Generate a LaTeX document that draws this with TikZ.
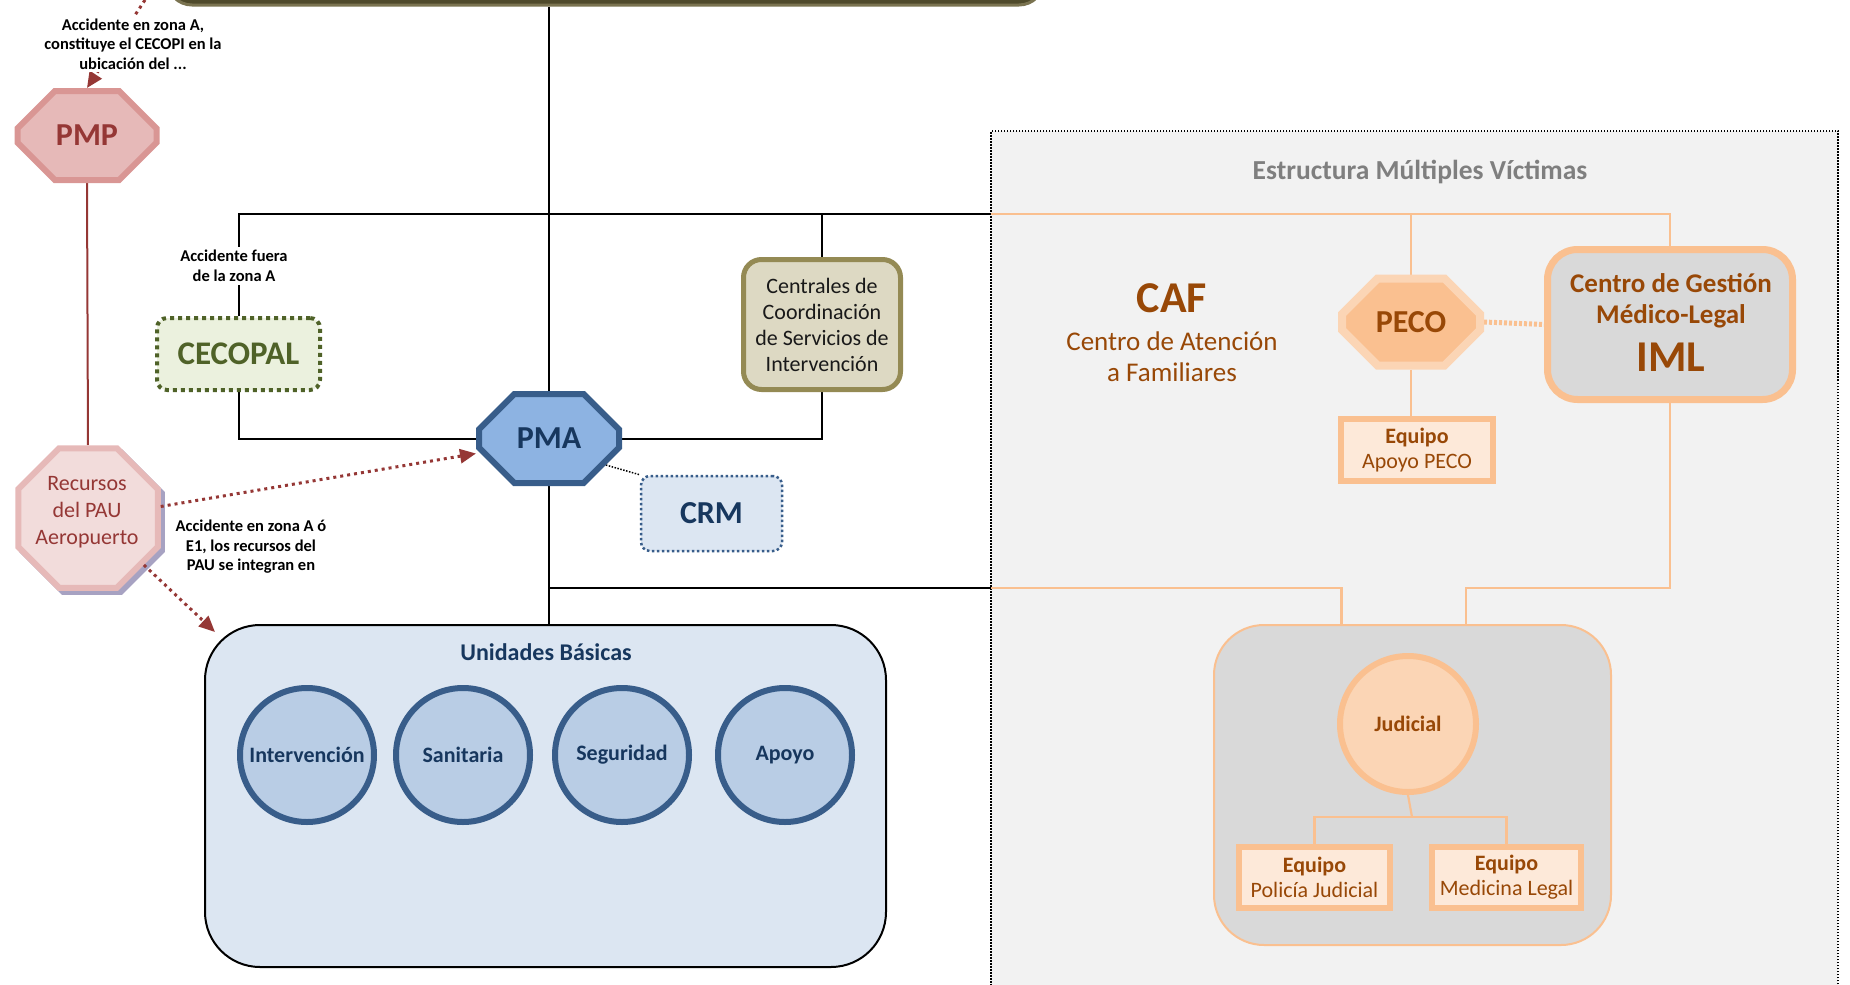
\documentclass[tikz,border=0pt]{standalone}
\usepackage{fontspec}
\setmainfont{Carlito}
\usetikzlibrary{shapes.misc,shapes.geometric,arrows.meta,shadows}
\definecolor{pmpfill}{HTML}{E6B9B8}
\definecolor{pmpline}{HTML}{D99694}
\definecolor{darkred}{HTML}{953735}
\definecolor{recfill}{HTML}{F2DCDB}
\definecolor{recshadow}{HTML}{A7A2C2}
\definecolor{greenfill}{HTML}{EBF1DE}
\definecolor{greenline}{HTML}{4F6228}
\definecolor{pmafill}{HTML}{8DB3E2}
\definecolor{blueline}{HTML}{385D8A}
\definecolor{navy}{HTML}{17375E}
\definecolor{lightblue}{HTML}{DCE6F2}
\definecolor{circfill}{HTML}{B9CDE5}
\definecolor{tanfill}{HTML}{DDD9C3}
\definecolor{tanline}{HTML}{948A54}
\definecolor{olivefill}{HTML}{4F4A2B}
\definecolor{oliveline}{HTML}{7A7350}
\definecolor{greyreg}{HTML}{F2F2F2}
\definecolor{titlegrey}{HTML}{7F7F7F}
\definecolor{brown}{HTML}{984807}
\definecolor{orange}{HTML}{FAC090}
\definecolor{lightorange}{HTML}{FBD5B5}
\definecolor{paleorange}{HTML}{FDE9D9}
\definecolor{midgrey}{HTML}{D9D9D9}
\newcommand\fsz[2]{\fontsize{#1}{#2}\selectfont}
\pgfdeclarelayer{back}
\pgfdeclarelayer{lines}
\pgfsetlayers{back,lines,main}
\tikzset{
  octa/.style 2 args={chamfered rectangle, chamfered rectangle xsep=#1, chamfered rectangle ysep=#2, inner sep=0pt},
  txt/.style={inner sep=0pt, align=center},
  conn/.style={draw=black, line width=2pt},
  oconn/.style={draw=orange, line width=2.2pt},
  redarrow/.style={draw=darkred, line width=3pt, dash pattern=on 3pt off 4pt, -{Triangle[length=16pt,width=14pt]}},
  smalllbl/.style={txt, font=\bfseries\fsz{16.5}{19.5}},
  ubcirc/.style={circle, minimum size=134pt, fill=circfill, draw=blueline, line width=6pt, text=navy, font=\bfseries\fsz{22}{26}, inner sep=0pt},
  equipo/.style={rectangle, fill=paleorange, draw=orange, line width=6pt, text=brown, font=\fsz{22}{25}, align=center, inner sep=0pt}
}
\begin{document}
\begin{tikzpicture}[x=1pt,y=-1pt]
\useasboundingbox (0,0) rectangle (1850,985);
\begin{pgfonlayer}{back}
  \node[rectangle, minimum width=847pt, minimum height=858pt, fill=greyreg, draw=black, line width=1.5pt, dash pattern=on 1.5pt off 1.5pt, inner sep=0pt] (mv) at (1414.5,560) {};
\end{pgfonlayer}

% top olive box (cut by the page edge)
\node[rectangle, rounded corners=25pt, minimum width=877pt, minimum height=60pt, fill=olivefill, draw=oliveline, line width=3pt, inner sep=0pt] (cecopi) at (605.5,-25) {};

% left column
\node[octa={25pt}{27pt}, minimum width=139pt, minimum height=89pt, fill=pmpfill, draw=pmpline, line width=6pt, text=darkred, font=\bfseries\fsz{32}{32}] (pmp) at (87,135.5) {PMP};
\node[regular polygon, regular polygon sides=8, minimum size=151pt, inner sep=0pt, fill=recfill, draw=pmpfill, line width=6pt,
  drop shadow={shadow xshift=4pt, shadow yshift=-4pt, fill=recshadow, draw=recshadow, line width=6pt, opacity=1}] (rec) at (88,518) {};
\node[txt, text=darkred, font=\fsz{22}{27}] (rectxt) at (87,512) {Recursos\\del PAU\\Aeropuerto};

\node[rectangle, rounded corners=10pt, minimum width=163pt, minimum height=72pt, fill=greenfill, draw=greenline, line width=4pt, dash pattern=on 4pt off 4pt, text=greenline, font=\bfseries\fsz{33}{33}, inner sep=0pt] (cecopal) at (238.5,354) {CECOPAL};

\node[octa={25pt}{25pt}, minimum width=140pt, minimum height=89pt, fill=pmafill, draw=blueline, line width=6pt, text=navy, font=\bfseries\fsz{32}{32}] (pma) at (549,438.5) {PMA};

\node[rectangle, rounded corners=9pt, minimum width=141pt, minimum height=75pt, fill=lightblue, draw=blueline, line width=2.5pt, dash pattern=on 2.5pt off 2.5pt, text=navy, font=\bfseries\fsz{32}{32}, inner sep=0pt] (crm) at (711.5,513.5) {CRM};

\node[rectangle, rounded corners=18pt, minimum width=157pt, minimum height=130pt, fill=tanfill, draw=tanline, line width=5pt, text=black!90, font=\fsz{22}{26}, align=center, inner sep=0pt] (centrales) at (822,324.5) {Centrales de\\Coordinación\\de Servicios de\\Intervención};

% Unidades basicas
\node[rectangle, rounded corners=55pt, minimum width=681pt, minimum height=342pt, fill=lightblue, draw=black, line width=2pt, inner sep=0pt] (ub) at (545.5,796) {};
\node[txt, text=navy, font=\bfseries\fsz{24}{28}] (ubtitle) at (546,652) {Unidades Básicas};
\node[ubcirc] (interv) at (307,755) {Intervención};
\node[ubcirc] (sanit) at (463,755) {Sanitaria};
\node[ubcirc] (segur) at (622,755) {Seguridad};
\node[ubcirc] (apoyou) at (785,755) {Apoyo};

% Estructura multiples victimas
\node[txt, text=titlegrey, font=\bfseries\fsz{27.5}{30}] (mvtitle) at (1420,172) {Estructura Múltiples Víctimas};
\node[txt, text=brown, font=\bfseries\fsz{44}{44}] (caf) at (1172,298) {CAF};
\node[txt, text=brown, font=\fsz{27}{31}] (caftxt) at (1172,357) {Centro de Atención\\a Familiares};

\node[octa={27pt}{25pt}, minimum width=138pt, minimum height=87pt, fill=orange, draw=lightorange, line width=8pt, text=brown, font=\bfseries\fsz{32}{32}] (peco) at (1411,322) {PECO};

\node[rectangle, rounded corners=30pt, minimum width=245pt, minimum height=150pt, fill=midgrey, draw=orange, line width=7pt, inner sep=0pt] (iml) at (1670,324.5) {};
\node[txt, text=brown, font=\bfseries\fsz{27}{30}] (imlt1) at (1671,283) {Centro de Gestión};
\node[txt, text=brown, font=\bfseries\fsz{27}{30}] (imlt2) at (1671,316) {Médico-Legal};
\node[txt, text=brown, font=\bfseries\fsz{44}{44}] (imlt3) at (1671,357) {IML};

\node[equipo, minimum width=152pt, minimum height=62pt] (apoyo) at (1417,450) {\textbf{Equipo}\\Apoyo PECO};

\node[rectangle, rounded corners=50pt, minimum width=397pt, minimum height=320pt, fill=midgrey, draw=orange, line width=2pt, inner sep=0pt] (judbox) at (1412.5,785) {};
\node[circle, minimum size=136pt, fill=lightorange, draw=orange, line width=6pt, text=brown, font=\bfseries\fsz{22}{26}, inner sep=0pt] (judc) at (1408,724) {Judicial};
\node[equipo, minimum width=151pt, minimum height=61pt] (pj) at (1314.5,877.5) {\textbf{Equipo}\\Policía Judicial};
\node[equipo, minimum width=149pt, minimum height=61pt] (ml) at (1506.5,877.5) {\textbf{Equipo}\\Medicina Legal};

% connectors
\coordinate (jt) at (991,214);
\coordinate (jb) at (991,588);
\coordinate (jr) at (1466,588);
\coordinate (jj) at (1412,817);
\coordinate (s1) at (145,0);
\begin{pgfonlayer}{lines}
  \draw[conn] (cecopi.south -| pma.north) -- (pma.north);
  \draw[conn] (cecopal.north) |- (jt);
  \draw[conn] (centrales.north) -- (centrales.north |- jt);
  \draw[conn] (cecopal.south) |- (pma.west);
  \draw[conn] (pma.east) -| (centrales.south);
  \draw[conn] (pma.south) -- (pma.south |- ub.north);
  \draw[conn] (pma.south |- jb) -- (jb);
  \draw[oconn] (jt) -| (iml.north);
  \draw[oconn] (peco.north) -- (peco.north |- jt);
  \draw[oconn] (jb) -| ([xshift=-71pt]judbox.north);
  \draw[oconn] (iml.south) |- (jr) -- (jr |- judbox.north);
  \draw[oconn] (peco.south) -- (peco.south |- apoyo.north);
  \draw[draw=darkred, line width=2pt] (pmp.south) -- (rec.north);
  \draw[draw=orange, line width=5pt, dash pattern=on 3pt off 2pt] (peco.east) -- (iml.west);
  \draw[draw=black, line width=1.5pt, dash pattern=on 1.5pt off 1.5pt] (pma.-25) -- (crm.north west);
\end{pgfonlayer}
\draw[oconn] (judc.south) -- (jj);
\draw[oconn] (pj.north) |- (jj) -| (ml.north);
\draw[redarrow] (s1) -- (pmp.north);
\draw[redarrow] (rec.9) -- ([yshift=-15pt]pma.west);
\draw[redarrow] (rec.-40) -- ([xshift=11pt,yshift=-8pt]ub.north west);

% labels
\node[smalllbl, fill=white, inner ysep=3pt, inner xsep=2pt] (lblcecopi) at (133,44) {Accidente en zona A,\\constituye el CECOPI en la\\ubicación del ...};
\node[smalllbl, fill=white, inner ysep=3pt, inner xsep=2pt] (lblfuera) at (234,266) {Accidente fuera\\de la zona A};
\node[smalllbl] (lblpau) at (251,547) {Accidente en zona A ó\\E1, los recursos del\\PAU se integran en};
\end{tikzpicture}
\end{document}
